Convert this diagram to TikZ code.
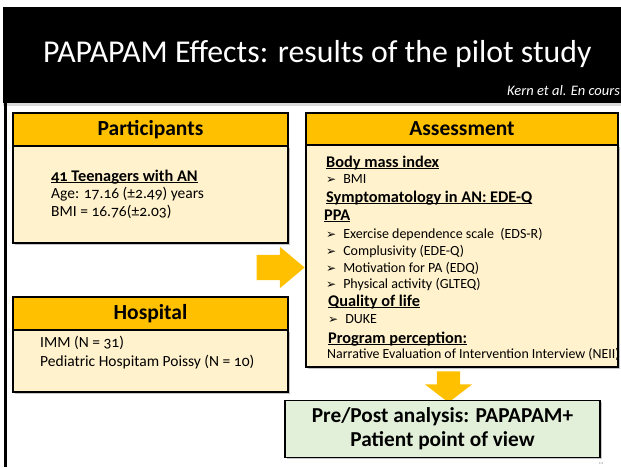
\documentclass[tikz,border=0pt]{standalone}
\usepackage{fontspec}
\setmainfont{Carlito}[Numbers=OldStyle]
\newfontfamily\symfont{DejaVu Sans}
\usetikzlibrary{shapes.arrows,shadows,positioning}

\definecolor{hdorange}{HTML}{FFC000}
\definecolor{bodycream}{HTML}{FFF2CC}
\definecolor{resgreen}{HTML}{E2F0D9}
\newcommand{\setfs}[2]{\fontsize{#1}{#2}\selectfont}
\newcommand{\bul}{{\symfont\setfs{12}{12}➢}\hspace{7pt}}
\newcommand{\hul}[1]{\setbox0\hbox{#1}\rlap{\rule[-2.4pt]{\wd0}{1pt}}\box0}

\begin{document}
\begin{tikzpicture}[
  x=1pt, y=-1pt,
  boxline/.style={draw=black, line width=1.6pt},
  shade/.style={drop shadow={shadow xshift=1.5pt, shadow yshift=-1.5pt, opacity=0.45}},
  head/.style={boxline, fill=hdorange, inner sep=0pt, font=\setfs{21.5}{21.5}\bfseries},
  body/.style={boxline, shade, fill=bodycream, inner sep=0pt},
  txt/.style={anchor=base west, inner sep=0pt, font=\setfs{15.5}{18}},
  sub/.style={anchor=base west, inner sep=0pt, font=\setfs{16.3}{18}\bfseries},
  item/.style={anchor=base west, inner sep=0pt, font=\setfs{14}{16}},
  bigarrow/.style={single arrow, fill=hdorange, draw=none, inner xsep=0pt},
]
  \useasboundingbox (0,0) rectangle (621,467);
  \clip (0,0) rectangle (621,467);

  % slide frame and title band
  \fill[black] (3,7) rectangle (621,103);
  \fill[black!15] (3,103) rectangle (621,106);
  \fill[black] (4,7) rectangle (7,467);
  \node[anchor=base west, inner sep=0pt, text=white, font=\setfs{31.8}{32}] (title) at (43,62)
    {PAPAPAM Effects: results of the pilot study};
  \node[anchor=base west, inner sep=0pt, text=white, font=\setfs{14.5}{15}\itshape] (ref) at (507,95)
    {Kern et al. En cours};

  % participants
  \node[body, minimum width=275pt, minimum height=97pt] (partbody) at (150.5,194.5) {};
  \node[head, minimum width=275pt, minimum height=33pt] (parthead) at (150.5,129.5) {Participants};
  \node[sub] (teens) at (51,181) {\hul{41 Teenagers with AN}};
  \node[txt] (age) at (51,198.5) {Age: 17.16 (±2.49) years};
  \node[txt] (bmi) at (51,216) {BMI = 16.76(±2.03)};

  % hospital
  \node[body, minimum width=275pt, minimum height=62pt] (hospbody) at (150.5,361) {};
  \node[head, minimum width=275pt, minimum height=33pt] (hosphead) at (150.5,313.5) {Hospital};
  \node[txt] (imm) at (40,347) {IMM (N = 31)};
  \node[txt] (poissy) at (40,366) {Pediatric Hospitam Poissy (N = 10)};

  % assessment
  \node[body, minimum width=312pt, minimum height=222pt] (assbody) at (462,256) {};
  \node[head, minimum width=312pt, minimum height=32pt] (asshead) at (462,129) {Assessment};
  \node[sub] (bmihd) at (326,167) {\hul{Body mass index}};
  \node[item] (bmiit) at (326,183.5) {\bul BMI};
  \node[sub] (symp) at (326,202) {\hul{Symptomatology in AN: EDE-Q}};
  \node[sub] (ppa) at (324,220) {\hul{PPA}};
  \node[item] (edsr) at (326,238) {\bul Exercise dependence scale\ \ (EDS-R)};
  \node[item] (edeq) at (326,255) {\bul Complusivity (EDE-Q)};
  \node[item] (edq) at (326,272) {\bul Motivation for PA (EDQ)};
  \node[item] (glteq) at (326,288.5) {\bul Physical activity (GLTEQ)};
  \node[sub] (qol) at (328,306) {\hul{Quality of life}};
  \node[item] (duke) at (328,323) {\bul DUKE};
  \node[sub] (prog) at (328,343) {\hul{Program perception:}};
  \node[item, font=\setfs{13.9}{16}] (neii) at (327,358.5) {Narrative Evaluation of Intervention Interview (NEII)};

  % arrows
  \node[bigarrow, minimum height=48pt, inner ysep=12.5pt, single arrow head extend=8pt,
        single arrow tip angle=80] (toass) at (273,267.5) {};
  \node[bigarrow, minimum height=31pt, inner ysep=11.5pt, single arrow head extend=12pt,
        single arrow tip angle=105, rotate=-90] (tores) at (448.5,382.5) {};

  % result
  \node[boxline, shade, fill=resgreen, minimum width=315pt, minimum height=57pt, align=center,
        inner sep=0pt, font=\setfs{21.3}{24}\bfseries] (result) at (442.5,429)
    {Pre/Post analysis: PAPAPAM+\\Patient point of view};

  \node[inner sep=0pt, text=black!50, font=\setfs{4}{4}] (pgno) at (601,463) {11};
\end{tikzpicture}
\end{document}
